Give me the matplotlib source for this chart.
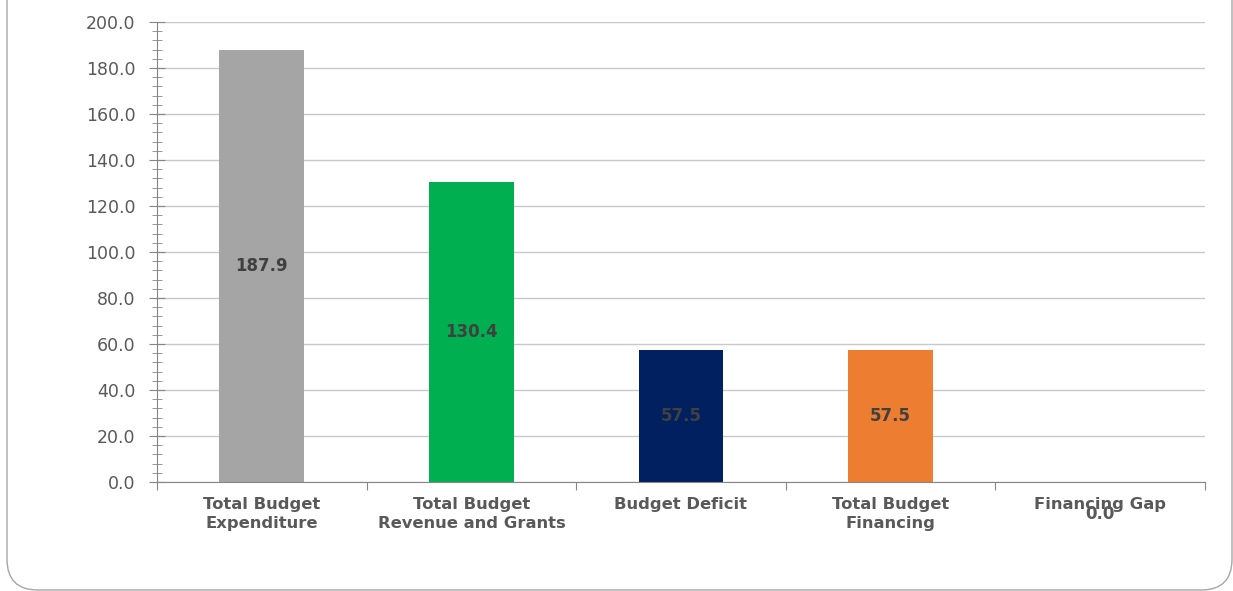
import matplotlib
matplotlib.use("Agg")
import matplotlib.pyplot as plt
from matplotlib.patches import FancyBboxPatch
from matplotlib.ticker import MultipleLocator, FuncFormatter

categories = ["Total Budget\nExpenditure", "Total Budget\nRevenue and Grants",
              "Budget Deficit", "Total Budget\nFinancing", "Financing Gap"]
values = [187.9, 130.4, 57.5, 57.5, 0.0]
colors = ["#a5a5a5", "#00b050", "#002060", "#ed7d31", "#5b9bd5"]
label_colors = ["#404040", "#404040", "#404040", "#404040", "#595959"]

W, H = 1233, 591
fig = plt.figure(figsize=(W / 100, H / 100), dpi=100)
ax = fig.add_axes([157 / W, 1 - 482 / H, (1205 - 157) / W, (482 - 22) / H])

x = list(range(len(categories)))
bars = ax.bar(x, values, width=0.405, color=colors, zorder=2)

ax.set_xlim(-0.5, len(categories) - 0.5)
ax.set_ylim(0, 200)
ax.yaxis.set_major_locator(MultipleLocator(20))
ax.yaxis.set_minor_locator(MultipleLocator(4))
ax.yaxis.set_major_formatter(FuncFormatter(lambda v, p: f"{v:.1f}"))
ax.grid(axis="y", which="major", color="#c8c8c8", linewidth=1, zorder=0)

for s in ["top", "right"]:
    ax.spines[s].set_visible(False)
ax.spines["left"].set_color("#868686")
ax.spines["bottom"].set_color("#868686")

ax.tick_params(axis="y", which="major", direction="inout", length=11, color="#868686",
               labelsize=12.5, labelcolor="#595959", pad=10)
ax.tick_params(axis="y", which="minor", direction="inout", length=7, color="#868686")
ax.set_xticks([i - 0.5 for i in range(len(categories) + 1)])
ax.set_xticklabels([])
ax.tick_params(axis="x", which="major", direction="out", length=6, color="#868686")
for lab in ax.get_yticklabels():
    lab.set_fontfamily("DejaVu Sans")

for i, c in enumerate(categories):
    ax.annotate(c, xy=(i, 0), xycoords="data", xytext=(0, -11), textcoords="offset points",
                ha="center", va="top", fontsize=11.8, fontweight="bold", color="#595959",
                family="DejaVu Sans", linespacing=1.35, annotation_clip=False)

for i, (b, v) in enumerate(zip(bars, values)):
    if v > 0:
        ax.text(b.get_x() + b.get_width() / 2, v / 2, f"{v:.1f}", ha="center", va="center",
                fontsize=12, fontweight="bold", color=label_colors[i], family="DejaVu Sans",
                zorder=3)
    else:
        ax.annotate(f"{v:.1f}", xy=(i, 0), xycoords="data", xytext=(0, -23),
                    textcoords="offset points", ha="center", va="center", fontsize=12,
                    fontweight="bold", color=label_colors[i], family="DejaVu Sans",
                    annotation_clip=False)

border = FancyBboxPatch((7 / W, 1 / H), (1225 / W), (H + 40) / H,
                        boxstyle="round,pad=0,rounding_size=0.025", transform=fig.transFigure,
                        fill=False, edgecolor="#a6a6a6", linewidth=1, mutation_aspect=W / H)
fig.patches.append(border)

fig.savefig("out.png", dpi=100)
